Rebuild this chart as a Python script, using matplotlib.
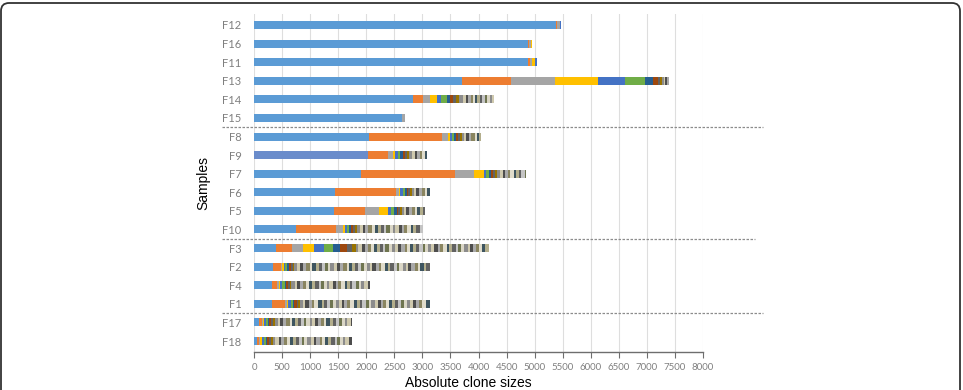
import numpy as np
import matplotlib.pyplot as plt
from matplotlib.patches import FancyBboxPatch

# ---------------- DATA ---------------- #
# sample order, top to bottom
samples = ["F12", "F16", "F11", "F13", "F14", "F15",
           "F8", "F9", "F7", "F6", "F5", "F10",
           "F3", "F2", "F4", "F1",
           "F17", "F18"]
group_sizes = [6, 6, 4, 2]

# clone sizes per sample, largest clone first
f12 = [5380, 12, 55, 10, 18]
f16 = [4890, 10, 40, 10]
f11 = [4880, 30, 45, 45, 40]
f13 = [3714, 872, 772, 771, 475, 369, 137, 89, 40, 30, 35, 25, 36, 30]
f14 = [2836, 167, 130, 130, 60, 107, 71, 45, 60, 50, 70,
       45, 40, 50, 35, 45, 40, 50, 35, 45, 40, 55, 40, 26]
f15 = [2630, 10, 45, 10]
f8 = [2053, 1298, 107, 42, 30, 40, 35, 30,
      30, 40, 35, 45, 50, 40, 55, 45, 40, 36]
f9 = [2024, 368, 78, 40, 60, 30, 60,
      30, 35, 40, 45, 50, 40, 55, 45, 50, 37]
f7 = [1898, 1691, 326, 185, 40, 45, 45,
      30, 35, 40, 45, 50, 40, 55, 45, 60, 40, 50, 45, 55, 29]
f6 = [1448, 1081, 61, 20, 40, 35, 35,
      25, 30, 35, 40, 45, 50, 40, 55, 45, 42]
f5 = [1424, 552, 255, 161, 50, 45, 53,
      30, 25, 40, 35, 45, 40, 55, 50, 45, 60, 40, 39]
f10 = [742, 718, 120, 45, 30, 35, 40, 30, 45, 35,
       45, 60, 40, 55, 70, 50, 45, 60, 55, 40,
       65, 50, 45, 55, 60, 40, 50, 65, 45, 55,
       60, 64]
f3 = [386, 291, 202, 196, 171, 154, 130, 120, 105,
      60, 45, 70, 40, 55, 65, 50, 45, 60, 55,
      40, 70, 50, 60, 45, 55, 65, 40, 50, 60,
      55, 45, 70, 50, 40, 60, 55, 65, 45, 50,
      60, 40, 55, 70, 45, 50, 60, 55, 40, 65,
      50, 55, 45, 60, 66]
f2 = [344, 137, 25, 30, 20, 35, 40, 30, 25, 35,
      45, 60, 55, 40, 70, 50, 65, 45, 55, 60,
      50, 40, 65, 55, 60, 45, 70, 40, 55, 50,
      60, 55, 45, 50, 65, 40, 55, 60, 45, 70,
      40, 50, 60, 55, 45, 65, 50, 40, 60, 55,
      55, 45, 60, 50, 62]
f4 = [314, 101, 25, 30, 35, 40, 30, 25, 35, 30,
      60, 45, 55, 40, 70, 50, 45, 65, 55, 40,
      50, 60, 45, 55, 65, 40, 50, 60, 45, 55,
      40, 55, 60, 45, 50, 65, 35]
f1 = [314, 244, 30, 25, 40, 35, 30, 45, 25, 30,
      55, 40, 65, 50, 45, 60, 70, 40, 50, 55,
      65, 45, 50, 60, 40, 55, 45, 70, 50, 60,
      40, 60, 55, 45, 65, 50, 60, 40, 55, 45,
      50, 65, 45, 55, 60, 40, 70, 50, 45, 60,
      55, 60, 75]
f17 = [95, 45, 20, 25, 30, 35, 25, 30, 35, 30,
       55, 40, 60, 45, 65, 50, 40, 55, 60, 45,
       50, 65, 40, 55, 45, 60, 50, 40, 65, 55,
       45, 60, 50, 55, 40, 65, 25]
f18 = [60, 35, 20, 30, 25, 35, 30, 25, 40, 30,
       50, 60, 45, 55, 40, 65, 50, 45, 60, 55,
       40, 55, 65, 50, 45, 60, 40, 55, 50, 65,
       55, 45, 60, 50, 40, 65, 55]

clones = [f12, f16, f11, f13, f14, f15, f8, f9, f7, f6, f5, f10,
          f3, f2, f4, f1, f17, f18]

xticks = list(range(0, 8001, 500))

# ---------------- STYLE ---------------- #
main_colors = ["#5B9BD5", "#ED7D31", "#A5A5A5", "#FFC000", "#4472C4",
               "#70AD47", "#255E91", "#9E480E", "#636363", "#997300"]
stripe_colors = ["#8C8C8C", "#CFC9AE", "#4D4D4D", "#A9A9A9", "#8A8560",
                 "#E0DCCB", "#3E5560", "#B3AE8C", "#626262", "#C4C4C4",
                 "#6F7550", "#DAD6C6"]


def clone_color(i):
    if i < len(main_colors):
        return main_colors[i]
    return stripe_colors[(i - len(main_colors)) % len(stripe_colors)]


plt.rcParams['font.family'] = ['Lato', 'DejaVu Sans']

fig = plt.figure(figsize=(9.63, 3.9), dpi=100)
ax = fig.add_axes([254 / 963, 1 - 352 / 390, 449 / 963, 338 / 390])

for row, sizes in enumerate(clones):
    sizes = np.array(sizes, dtype=float)
    lefts = np.concatenate([[0], np.cumsum(sizes)[:-1]])
    cols = [clone_color(i) for i in range(len(sizes))]
    if samples[row] == "F9":
        cols[0] = "#6A8CCB"
    ax.barh(row, sizes, left=lefts, height=0.43, color=cols, linewidth=0)

n = len(samples)
ax.set_ylim(n - 1 + 0.59, -0.59)
ax.set_xlim(0, 8000)
ax.set_yticks(range(n))
ax.set_yticklabels(samples)
ax.set_xticks(xticks)
ax.set_xticklabels([str(t) for t in xticks])

ax.grid(axis='x', color='#DEDEDE', linewidth=0.8)
ax.set_axisbelow(True)
for s in ['top', 'right', 'left']:
    ax.spines[s].set_visible(False)
ax.spines['bottom'].set_color('#6E6E6E')
ax.spines['bottom'].set_linewidth(1.0)

ax.tick_params(axis='y', length=0, pad=9, labelsize=8, labelcolor='#7F7F7F')
ax.tick_params(axis='x', direction='out', length=4.5, width=0.8, color='#6E6E6E',
               pad=3.5, labelsize=7, labelcolor='#808080')

# dashed separators between sample groups
sep_ends = [9070, 8930, 9070]
bounds = np.cumsum(group_sizes)[:-1]
for b, xe in zip(bounds, sep_ends):
    ax.plot([-570, xe], [b - 0.5, b - 0.5], color='#8C8C8C', linewidth=0.9,
            linestyle=(0, (2, 1.2)), clip_on=False)

fig.text(203 / 963, 1 - 183 / 390, "Samples", rotation=90, ha='center',
         va='center', fontsize=10, family='Liberation Sans')
fig.text(468 / 963, 1 - 383 / 390, "Absolute clone sizes", ha='center',
         va='center', fontsize=10, family='Liberation Sans')

# rounded border around the whole figure
frame = FancyBboxPatch((0.01, -0.5), 9.59, 4.37,
                       boxstyle="round,pad=0,rounding_size=0.08",
                       transform=fig.dpi_scale_trans, fill=False,
                       edgecolor='#333333', linewidth=1.3)
fig.patches.append(frame)

fig.savefig("out.png", dpi=100)
